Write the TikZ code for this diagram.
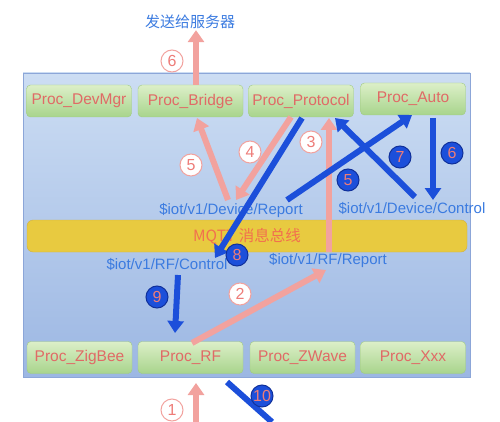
\documentclass[tikz,border=0pt]{standalone}
\usepackage{fontspec}
\setmainfont{Liberation Sans}
\newfontfamily\cjk{Noto Sans CJK SC}
\usetikzlibrary{arrows.meta}

\begin{document}
\begin{tikzpicture}[x=1pt,y=-1pt,
    proc/.style={rounded corners=4pt, draw=procline, top color=proctop, bottom color=procbot,
        minimum width=105pt, minimum height=32pt, inner sep=0pt, text=proctext,
        font=\fontsize{15.5}{17}\selectfont},
    topic/.style={text=topictext, inner sep=1pt, font=\fontsize{15}{17}\selectfont},
    pinkarrow/.style={draw=pinkline, line width=6pt, -{Triangle[length=12pt,width=16pt]}},
    bluearrow/.style={draw=blueline, line width=6pt, -{Triangle[length=12pt,width=16pt]}},
    pinknum/.style={circle, draw=pinkline, line width=1pt, fill=white, text=numtext, minimum size=22pt,
        inner sep=0pt, font=\fontsize{16}{18}\selectfont},
    bluenum/.style={circle, draw=bluedark, line width=1pt, fill=blueline, text=numtext, minimum size=22pt,
        inner sep=0pt, font=\fontsize{16}{18}\selectfont}]
    \definecolor{paneltop}{HTML}{CCDDF3}
    \definecolor{panelbot}{HTML}{9CB7E3}
    \definecolor{panelline}{HTML}{8CA6D8}
    \definecolor{proctop}{HTML}{DCEFC8}
    \definecolor{procbot}{HTML}{A8D48C}
    \definecolor{procline}{HTML}{A0CA82}
    \definecolor{proctext}{HTML}{E06A66}
    \definecolor{bustop}{HTML}{E8CA40}
    \definecolor{busline}{HTML}{D0B040}
    \definecolor{bustext}{HTML}{F2704E}
    \definecolor{topictext}{HTML}{3B7BE0}
    \definecolor{pinkline}{HTML}{F2A29E}
    \definecolor{blueline}{HTML}{1C4FDA}
    \definecolor{bluedark}{HTML}{10309A}
    \definecolor{numtext}{HTML}{EE7C78}
    \useasboundingbox (0,0) rectangle (500,422);

    % panel and message bus
    \draw[panelline, top color=paneltop, bottom color=panelbot] (23,73) rectangle (470,377);
    \node[rounded corners=6pt, draw=busline, fill=bustop, minimum width=440pt, minimum height=32pt,
        text=bustext, font=\cjk\fontsize{15.5}{17}\selectfont] (bus) at (247,236) {MQTT 消息总线};

    % processes
    \foreach \nm/\txt/\x/\y in {devmgr/Proc\_DevMgr/79/101, bridge/Proc\_Bridge/190.5/101,
        protocol/Proc\_Protocol/301/101, auto/Proc\_Auto/413/99,
        zigbee/Proc\_ZigBee/79.5/357.5, rf/Proc\_RF/190.5/357.5,
        zwave/Proc\_ZWave/302.5/357.5, xxx/Proc\_Xxx/413/357.5}
        \node[proc] (\nm) at (\x,\y) {\txt};

    % topics
    \node[topic, font=\cjk\fontsize{15}{17}\selectfont] (server) at (190,22) {发送给服务器};
    \node[topic] (devrep) at (231,211) {\$iot/v1/Device/Report};
    \node[topic] (devctl) at (412,208) {\$iot/v1/Device/Control};
    \node[topic] (rfctl) at (167,264) {\$iot/v1/RF/Control};
    \node[topic] (rfrep) at (328,261) {\$iot/v1/RF/Report};

    % free ends
    \coordinate (in1) at (196,422);
    \coordinate (out10) at (272,422);

    % report path
    \draw[pinkarrow] (in1) -- (196,383);
    \draw[pinkarrow] (192,343) -- (326,270);
    \draw[pinkarrow] (329,252) -- (329,118);
    \draw[pinkarrow] (291,117) -- (236,200);
    \draw[pinkarrow] (228,200) -- (197,118);
    \draw[pinkarrow] (bridge.north -| 196,0) -- (server.south -| 196,0);

    % control path
    \draw[bluearrow] (302,118) -- (215,258);
    \draw[bluearrow] (287,200) -- (412,115);
    \draw[bluearrow] (415,197) -- (335,118);
    \draw[bluearrow] (433,118) -- (433,200);
    \draw[bluearrow] (178,275) -- (175,333);
    \draw[blueline, line width=6pt] (227,382) -- (out10);

    % step numbers
    \foreach \n/\x/\y in {6/172/61, 1/172/410, 2/240/294, 3/311/142, 4/250/152, 5/191/165}
        \node[pinknum] (p\n) at (\x,\y) {\n};
    \foreach \n/\x/\y in {8/237/255, 5/348/180, 7/400/157, 6/452/153, 9/157/297, 10/262/396}
        \node[bluenum] (b\n) at (\x,\y) {\n};
\end{tikzpicture}
\end{document}
